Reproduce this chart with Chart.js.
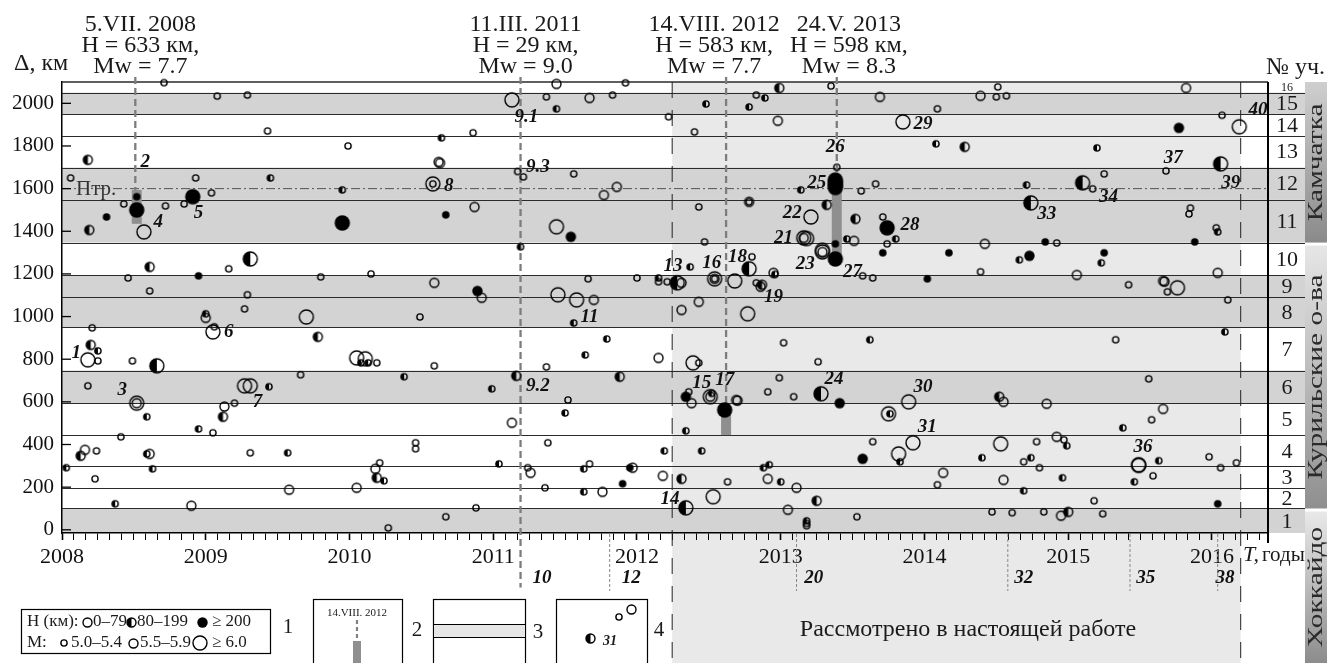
<!DOCTYPE html>
<html>
<head>
<meta charset="utf-8">
<script src="https://cdn.jsdelivr.net/npm/chart.js@4.4.1/dist/chart.umd.min.js"></script>
<style>
  html, body { margin: 0; padding: 0; background: #fff; }
  #wrap { width: 1327px; height: 663px; }
</style>
</head>
<body>
<div id="wrap"><canvas id="chart" width="1327" height="663"></canvas></div>
<script>
// Seismicity along the Kuril-Kamchatka arc, 2008-2016

const SERIF = "'Liberation Serif', 'Times New Roman', serif";

const xMin = 2008, xMax = 2016.39, yMin = -15, yMax = 2100;
const yTickValues = [0, 200, 400, 600, 800, 1000, 1200, 1400, 1600, 1800, 2000];

// zone (segment) borders along the arc, km
const zoneEdges = [-15, 100, 195, 297, 444, 594, 747, 950, 1091, 1195, 1347, 1547, 1699, 1848, 1949, 2050, 2100];
const grayZones = [1, 6, 8, 9, 11, 12, 15];
const trenchKm = 1600;
const studyStart = 2012.245, studyEnd = 2016.2;

const quakeYears = [2008.51, 2011.19, 2012.62, 2013.39];
const quakeDates = ['5.VII. 2008', '11.III. 2011', '14.VIII. 2012', '24.V. 2013'];
const quakeDepths = ['H = 633 км,', 'H = 29 км,', 'H = 583 км,', 'H = 598 км,'];
const quakeMw = ['Mw = 7.7', 'Mw = 9.0', 'Mw = 7.7', 'Mw = 8.3'];
const quakeLineEnd = [1594, -270, 562, 1625];
const quakeBars = [[2008.52, 1594, 1435], [2012.62, 560, 444], [2013.39, 1625, 1289]];
const markYears = [2011.81, 2013.11, 2014.58, 2015.43, 2016.04];

// events: [year, km]; H 0-79 open, 80-199 half, >=200 filled; M 5.0-5.4 small, 5.5-5.9 mid, >=6.0 large
const openSmall = [
  [2008.71,2097],[2009.08,2034],[2009.29,2039],[2009.43,1870],[2009.99,1800],[2008.06,1650],[2008.93,1650],[2010.58,1622],[2009.04,1580],
  [2008.43,1528],[2008.72,1519],[2008.85,1528],[2008.46,1181],[2009.16,1224],[2008.61,1120],[2009.29,1102],[2009.27,1036],[2009.06,952],
  [2009.80,1186],[2010.15,1200],[2010.49,998],[2008.21,947],[2008.25,792],[2008.49,792],[2010.19,783],[2010.59,769],
  [2008.18,675],[2009.20,594],[2009.66,727],[2009.05,455],[2008.41,436],[2008.24,370],[2008.23,239],[2009.31,361],[2010.21,314],
  [2010.46,408],[2010.46,380],[2010.27,9],[2010.67,61],
  [2011.92,2096],[2011.37,2030],[2011.83,2039],[2012.22,1937],[2010.86,1862],[2011.17,1680],[2011.21,1655],[2011.56,1669],[2012.83,2039],
  [2012.40,1866],[2013.35,2081],[2013.39,1700],[2013.56,1589],[2013.66,1622],
  [2012.43,1514],[2012.47,1350],[2012.78,1538],[2013.71,1467],[2013.74,1341],[2013.57,1191],[2013.64,1181],[2012.15,1163],[2012.21,1163],
  [2012.00,1181],[2011.66,1177],[2012.54,1177],[2012.80,1280],[2012.83,1158],[2012.43,783],[2013.02,877],[2013.26,788],[2011.37,764],
  [2011.52,609],[2011.38,408],[2011.24,291],[2011.36,197],[2011.67,309],[2010.88,103],[2012.63,225],[2012.36,647],[2012.91,647],
  [2012.99,713],[2013.09,624],[2013.64,413],[2013.53,61],[2013.18,30],[2013.18,19],
  [2015.56,708],[2015.58,516],[2014.09,211],[2014.78,413],[2014.69,319],[2014.80,291],[2014.97,422],[2014.47,84],[2014.61,80],
  [2014.83,84],[2015.18,136],[2015.24,75],[2015.59,253],[2015.98,342],[2016.06,291],[2016.17,314],
  [2014.92,1345],[2014.39,1210],[2015.42,1149],[2015.69,1116],[2016.11,1078],[2015.85,1509],[2015.84,1481],[2016.03,1416],[2015.33,891],
  [2014.51,2077],[2014.50,2030],[2014.57,2035],[2014.09,1974],[2016.07,1944],[2015.68,1683],[2015.25,1669],[2015.17,1599]
];
const openMid = [
  [2010.62,1725],[2010.63,1720],[2009.00,994],[2010.59,1158],[2008.52,594],[2009.13,578],[2008.16,375],[2008.61,356],[2008.90,113],
  [2009.58,188],[2010.05,197],[2010.18,286],
  [2011.44,2091],[2011.67,2025],[2011.86,1608],[2011.77,1570],[2012.98,1918],[2013.69,2030],[2010.87,1514],[2012.78,1538],[2013.29,1303],
  [2013.16,1369],[2013.51,1355],[2012.31,1158],[2010.92,1088],[2011.70,1078],[2012.54,1177],[2012.86,1140],[2012.95,1205],[2012.43,1069],
  [2012.31,1031],[2012.15,806],
  [2011.13,502],[2011.26,267],[2011.76,178],[2011.97,291],[2012.18,253],[2012.38,594],[2012.51,624],[2012.69,609],[2012.70,606],
  [2012.91,239],[2013.11,197],[2013.05,94],
  [2014.55,600],[2014.85,591],[2015.66,567],[2014.13,267],[2014.55,234],[2014.92,436],[2014.95,66],
  [2014.42,1341],[2015.06,1195],[2015.66,1167],[2015.67,1164],[2016.04,1205],[2014.39,2035],[2015.82,2072]
];
const openLarge = [
  [2010.58,1622],[2008.57,1397],[2009.05,928],[2009.70,998],[2008.18,797],[2010.05,806],[2010.11,802],[2008.52,594],[2009.27,675],[2009.31,675],
  [2011.13,2016],[2011.44,1421],[2013.21,1467],[2013.16,1369],[2013.18,1366],[2013.29,1303],[2013.29,1311],[2011.45,1102],[2011.58,1078],
  [2012.54,1177],[2012.68,1167],[2012.77,1013],[2012.39,783],
  [2012.53,155],[2012.51,624],[2013.89,600],[2013.75,544],[2013.92,408],[2013.82,356],[2014.53,403],[2015.49,305],[2015.49,302],
  [2015.76,1135],[2013.85,1913],[2016.19,1890]
];
const halfSmall = [
  [2010.64,1838],[2009.45,1650],[2009.95,1594],[2009.00,1013],[2008.25,839],[2010.08,783],[2010.13,783],[2008.59,530],[2009.44,671],
  [2010.38,718],[2008.95,473],[2008.03,291],[2008.59,356],[2008.63,286],[2009.57,361],[2008.37,122],[2010.24,230],
  [2011.44,1974],[2012.48,1997],[2012.78,1983],[2012.89,2025],[2013.14,1594],[2011.19,1327],[2013.46,1364],[2012.37,1233],[2012.15,1181],
  [2011.56,970],[2012.96,1198],[2011.79,895],[2011.64,820],[2013.62,891],
  [2010.99,661],[2011.50,548],[2011.04,309],[2011.63,178],[2011.63,286],[2012.19,370],[2012.45,370],[2012.34,464],[2012.52,640],
  [2012.88,291],[2012.92,305],[2013.00,225],[2013.18,42],
  [2015.38,478],[2013.76,544],[2013.83,319],[2014.40,338],[2014.74,338],[2014.99,394],[2014.96,244],[2014.69,183],[2015.63,324],[2015.46,225],
  [2013.80,1364],[2014.66,1266],[2015.23,1252],[2016.04,1397],[2016.09,928],[2014.08,1810],[2015.20,1791],[2014.71,1617]
];
const halfMid = [
  [2008.18,1735],[2008.19,1406],[2008.61,1233],[2009.78,905],[2008.20,867],[2009.12,530],[2008.13,347],[2010.19,244],[2012.99,2072],
  [2013.32,1524],[2013.52,1458],[2012.87,1149],[2011.16,722],[2011.88,718],[2012.31,239],[2013.25,136],[2014.52,624],[2015.00,84],[2014.28,1796]
];
const halfLarge = [
  [2009.31,1270],[2008.66,769],[2012.28,1158],[2012.78,1224],[2012.34,103],[2013.28,638],[2014.74,1533],[2016.06,1716],[2015.10,1627]
];
const deepSmall = [
  [2008.52,1562],[2008.31,1467],[2010.67,1477],[2008.95,1191],[2013.38,1341],[2013.71,1299],[2011.95,291],[2011.90,216],[2016.04,122],
  [2014.84,1350],[2014.17,1299],[2015.25,1299],[2014.02,1177],[2015.88,1350]
];
const deepMid = [
  [2011.54,1374],[2010.89,1120],[2012.34,624],[2013.41,594],[2013.57,333],[2014.73,1285],[2015.77,1885]
];
const deepLarge = [
  [2008.91,1562],[2008.52,1500],[2009.95,1439],[2013.38,1640],[2013.38,1628],[2013.38,1616],[2013.38,1605],[2013.38,1270],[2013.74,1416],[2012.61,562]
];

// event numbers: [year, km, text]
const eventLabels = [
  [2008.10,830,'1'],[2008.58,1725,'2'],[2008.42,656,'3'],[2008.67,1444,'4'],[2008.95,1486,'5'],[2009.16,928,'6'],[2009.36,600,'7'],
  [2010.69,1613,'8'],[2011.23,1936,'9.1'],[2011.31,675,'9.2'],[2011.31,1702,'9.3'],[2011.34,-225,'10'],[2011.67,999,'11'],
  [2011.96,-225,'12'],[2012.25,1238,'13'],[2012.23,145,'14'],[2012.45,689,'15'],[2012.52,1252,'16'],[2012.61,703,'17'],
  [2012.70,1280,'18'],[2012.95,1092,'19'],[2013.23,-225,'20'],[2013.02,1369,'21'],[2013.08,1486,'22'],[2013.17,1247,'23'],
  [2013.37,708,'24'],[2013.25,1627,'25'],[2013.38,1796,'26'],[2013.50,1210,'27'],[2013.90,1430,'28'],[2013.99,1903,'29'],
  [2013.99,670,'30'],[2014.02,483,'31'],[2014.69,-225,'32'],[2014.85,1481,'33'],[2015.28,1561,'34'],[2015.54,-225,'35'],
  [2015.52,389,'36'],[2015.73,1744,'37'],[2016.09,-225,'38'],[2016.13,1627,'39'],[2016.32,1969,'40']
];

function makeSymbol(r, kind) {
  const lw = 1.4;
  const size = Math.ceil(2 * r + lw + 2);
  const c = document.createElement('canvas');
  c.width = c.height = size;
  const g = c.getContext('2d');
  const m = size / 2;
  g.lineWidth = lw;
  g.strokeStyle = '#000';
  g.fillStyle = '#000';
  if (kind === 'deep') {
    g.beginPath(); g.arc(m, m, r + lw / 2, 0, 2 * Math.PI); g.fill();
    return c;
  }
  if (kind === 'half') {
    g.beginPath(); g.moveTo(m, m); g.arc(m, m, r, Math.PI / 2, 3 * Math.PI / 2); g.closePath(); g.fill();
  }
  g.beginPath(); g.arc(m, m, r, 0, 2 * Math.PI); g.stroke();
  return c;
}

const R_SMALL = 3.1, R_MID = 4.5, R_LARGE = 7;
const groups = [
  { data: openSmall, r: R_SMALL, kind: 'open' },
  { data: openMid, r: R_MID, kind: 'open' },
  { data: openLarge, r: R_LARGE, kind: 'open' },
  { data: halfSmall, r: R_SMALL, kind: 'half' },
  { data: halfMid, r: R_MID, kind: 'half' },
  { data: halfLarge, r: R_LARGE, kind: 'half' },
  { data: deepSmall, r: R_SMALL, kind: 'deep' },
  { data: deepMid, r: R_MID, kind: 'deep' },
  { data: deepLarge, r: R_LARGE, kind: 'deep' }
];
groups.forEach(g => { g.symbol = makeSymbol(g.r, g.kind); });
const sym = (kind, r) => groups.find(g => g.kind === kind && g.r === r).symbol;

function dashedV(ctx, x, y0, y1, color, width, dash) {
  ctx.save();
  ctx.strokeStyle = color; ctx.lineWidth = width; ctx.setLineDash(dash);
  ctx.beginPath(); ctx.moveTo(x, y0); ctx.lineTo(x, y1); ctx.stroke();
  ctx.restore();
}

function text(ctx, str, x, y, font, align, color) {
  ctx.font = font;
  ctx.textAlign = align || 'center';
  ctx.textBaseline = 'middle';
  ctx.fillStyle = color || '#1a1a1a';
  ctx.fillText(str, x, y);
}

const figurePlugin = {
  id: 'figure',
  beforeDraw(chart) {
    const { ctx, chartArea: a, scales: { x, y } } = chart;
    const colRight = a.right + 37;
    ctx.save();
    ctx.fillStyle = '#fff';
    ctx.fillRect(0, 0, chart.width, chart.height);
    const sx0 = x.getPixelForValue(studyStart), sx1 = x.getPixelForValue(studyEnd);
    ctx.fillStyle = '#e9e9e9';
    ctx.fillRect(sx0, a.top, sx1 - sx0, chart.height - a.top);
    ctx.fillStyle = '#d3d3d4';
    grayZones.forEach(z => {
      const t = y.getPixelForValue(zoneEdges[z]);
      const b = y.getPixelForValue(zoneEdges[z - 1]);
      ctx.fillRect(a.left, t, colRight - a.left, b - t);
    });
    ctx.restore();
  },
  beforeDatasetsDraw(chart) {
    const { ctx, chartArea: a, scales: { x, y } } = chart;
    const colRight = a.right + 37;
    ctx.save();
    // zone borders
    ctx.strokeStyle = '#2a2a2a';
    ctx.lineWidth = 1.1;
    for (let i = 1; i < zoneEdges.length - 1; i++) {
      const py = Math.round(y.getPixelForValue(zoneEdges[i])) + 0.5;
      ctx.beginPath(); ctx.moveTo(a.left, py); ctx.lineTo(colRight, py); ctx.stroke();
    }
    ctx.lineWidth = 1.4;
    ctx.beginPath(); ctx.moveTo(a.left, a.top); ctx.lineTo(a.right, a.top); ctx.stroke();
    // trench axis
    const ty = y.getPixelForValue(trenchKm);
    ctx.strokeStyle = '#555'; ctx.lineWidth = 1; ctx.setLineDash([9, 3, 2, 3]);
    ctx.beginPath(); ctx.moveTo(a.left, ty); ctx.lineTo(a.right, ty); ctx.stroke();
    ctx.setLineDash([]);
    // inner y ticks
    ctx.strokeStyle = '#000'; ctx.lineWidth = 1.3;
    yTickValues.forEach(v => {
      const py = y.getPixelForValue(v);
      ctx.beginPath(); ctx.moveTo(a.left, py); ctx.lineTo(a.left + 9, py); ctx.stroke();
    });
    ctx.restore();
    // study period edges
    [studyStart, studyEnd].forEach(v => dashedV(ctx, x.getPixelForValue(v), a.top, chart.height, '#222', 1, [16, 12]));
    // marks below the axis
    markYears.forEach(v => dashedV(ctx, x.getPixelForValue(v), a.bottom + 1, a.bottom + 58, '#888', 1, [3, 2]));
    // strong earthquakes
    quakeYears.forEach((v, i) => dashedV(ctx, x.getPixelForValue(v), 77, y.getPixelForValue(quakeLineEnd[i]), '#7d7d7d', 2.3, [7, 4]));
    ctx.save();
    ctx.fillStyle = '#8f8f8f';
    quakeBars.forEach(b => {
      const px = x.getPixelForValue(b[0]);
      const t = y.getPixelForValue(b[1]), bt = y.getPixelForValue(b[2]);
      ctx.fillRect(px - 5, t, 10, bt - t);
    });
    // segment column border
    ctx.strokeStyle = '#000'; ctx.lineWidth = 2;
    ctx.beginPath(); ctx.moveTo(a.right, a.top); ctx.lineTo(a.right, a.bottom + 10); ctx.stroke();
    ctx.restore();
  },
  afterDatasetsDraw(chart) {
    const { ctx, scales: { x, y } } = chart;
    ctx.save();
    eventLabels.forEach(l => {
      text(ctx, l[2], x.getPixelForValue(l[0]), y.getPixelForValue(l[1]), `italic bold 19px ${SERIF}`, 'center', '#111');
    });
    ctx.restore();
  },
  afterDraw(chart) {
    const { ctx, chartArea: a, scales: { x, y } } = chart;
    const colRight = a.right + 37;
    const F = `21px ${SERIF}`;
    const H = `24px ${SERIF}`;
    ctx.save();
    // headers of strong earthquakes
    const shift = [5, 5, -12, 12];
    quakeYears.forEach((v, i) => {
      const cx = x.getPixelForValue(v) + shift[i];
      text(ctx, quakeDates[i], cx, 25, H);
      text(ctx, quakeDepths[i], cx, 46, H);
      text(ctx, quakeMw[i], cx, 67, H);
    });
    text(ctx, 'Δ, км', 14, 64, H, 'left');
    text(ctx, '№ уч.', 1325, 68, H, 'right');
    text(ctx, 'Птр.', 76, y.getPixelForValue(trenchKm) + 1, F, 'left', '#333');
    // segment numbers
    for (let i = 1; i < zoneEdges.length; i++) {
      const cy = (y.getPixelForValue(zoneEdges[i - 1]) + y.getPixelForValue(zoneEdges[i])) / 2;
      text(ctx, String(i), a.right + 19, cy + 1, i === 16 ? `12px ${SERIF}` : `22px ${SERIF}`);
    }
    // region strip
    const regions = [
      ['Камчатка', a.top, y.getPixelForValue(1347), '#cfcfcf', '#8a8a8a'],
      ['Курильские о-ва', y.getPixelForValue(1347) + 3, y.getPixelForValue(100), '#e6e6e6', '#8f8f8f'],
      ['Хоккайдо', y.getPixelForValue(100) + 3, chart.height, '#e9e9e9', '#8c8c8c']
    ];
    regions.forEach(r => {
      const grd = ctx.createLinearGradient(0, r[1], 0, r[2]);
      grd.addColorStop(0, r[3]); grd.addColorStop(1, r[4]);
      ctx.fillStyle = grd;
      ctx.fillRect(colRight, r[1], chart.width - colRight, r[2] - r[1]);
      ctx.save();
      ctx.beginPath(); ctx.rect(colRight, r[1], chart.width - colRight, r[2] - r[1]); ctx.clip();
      ctx.translate(colRight + 10, (r[1] + r[2]) / 2);
      ctx.rotate(-Math.PI / 2);
      ctx.scale(1.4, 1);
      text(ctx, r[0], 0, 1, `21px ${SERIF}`, 'center', '#2a2a2a');
      ctx.restore();
    });
    // axis title
    text(ctx, 'T,', 1243, 555, `italic 22px ${SERIF}`, 'left');
    text(ctx, 'годы', 1262, 555, `21px ${SERIF}`, 'left');
    text(ctx, 'Рассмотрено в настоящей работе', 968, 630, H);
    // legend 1
    const L = `17px ${SERIF}`;
    ctx.strokeStyle = '#000'; ctx.lineWidth = 1.2;
    ctx.strokeRect(21.5, 609.5, 249, 44);
    const put = (c, cx, cy) => ctx.drawImage(c, Math.round(cx - c.width / 2), Math.round(cy - c.height / 2));
    text(ctx, 'H (км):', 27, 622, L, 'left');
    put(sym('open', R_MID), 87, 622); text(ctx, '0–79', 93, 622, L, 'left');
    put(sym('half', R_MID), 131, 622); text(ctx, '80–199', 137, 622, L, 'left');
    put(sym('deep', R_MID), 202, 622); text(ctx, '≥ 200', 212, 622, L, 'left');
    text(ctx, 'M:', 27, 643, L, 'left');
    put(sym('open', R_SMALL), 64, 643); text(ctx, '5.0–5.4', 71, 643, L, 'left');
    put(sym('open', R_MID), 133, 643); text(ctx, '5.5–5.9', 140, 643, L, 'left');
    put(sym('open', R_LARGE), 200, 643); text(ctx, '≥ 6.0', 212, 643, L, 'left');
    text(ctx, '1', 288, 627, F);
    // legend 2
    ctx.strokeRect(313.5, 599.5, 89, 80);
    text(ctx, '14.VIII. 2012', 357, 613, `11px ${SERIF}`);
    dashedV(ctx, 357, 620, 641, '#808080', 2.2, [4, 3]);
    ctx.fillStyle = '#8f8f8f'; ctx.fillRect(353, 641, 8, 25);
    text(ctx, '2', 417, 630, F);
    // legend 3
    ctx.strokeStyle = '#000';
    ctx.strokeRect(433.5, 599.5, 92, 80);
    ctx.fillStyle = '#e6e6e6'; ctx.fillRect(434, 624, 91, 13);
    ctx.beginPath(); ctx.moveTo(434, 624.5); ctx.lineTo(525, 624.5); ctx.moveTo(434, 637.5); ctx.lineTo(525, 637.5); ctx.stroke();
    text(ctx, '3', 538, 632, F);
    // legend 4
    ctx.strokeRect(556.5, 599.5, 91, 80);
    put(sym('half', R_MID), 590, 638);
    text(ctx, '31', 610, 641, `italic bold 14px ${SERIF}`);
    put(sym('open', R_SMALL), 619, 617);
    put(sym('open', R_MID), 631, 609);
    text(ctx, '4', 659, 630, F);
    ctx.restore();
  }
};

const yearTicks = [];
for (let m = 0; m <= 100; m++) yearTicks.push(2008 + m / 12);

new Chart(document.getElementById('chart'), {
  type: 'scatter',
  data: {
    datasets: groups.map(g => ({
      data: g.data.map(p => ({ x: p[0], y: p[1] })),
      pointStyle: g.symbol,
      pointRadius: g.r,
      pointHoverRadius: g.r,
      clip: false
    }))
  },
  options: {
    responsive: false,
    animation: false,
    layout: { padding: { top: 82, right: 59, left: 0, bottom: 0 } },
    plugins: { legend: { display: false }, tooltip: { enabled: false } },
    scales: {
      x: {
        type: 'linear', min: xMin, max: xMax,
        afterBuildTicks: s => { s.ticks = yearTicks.map(v => ({ value: v })); },
        afterFit: s => { s.height = 130; },
        border: { display: true, color: '#000', width: 1.5 },
        grid: {
          drawOnChartArea: false, drawTicks: true, tickLength: 7, tickColor: '#000',
          tickWidth: c => (Math.abs(c.tick.value - Math.round(c.tick.value)) < 1e-6 ? 1.6 : 1)
        },
        ticks: {
          autoSkip: false, maxRotation: 0, minRotation: 0, padding: 4, color: '#111',
          font: { family: SERIF, size: 22 },
          callback: v => (Math.abs(v - Math.round(v)) < 1e-6 ? String(Math.round(v)) : '')
        }
      },
      y: {
        type: 'linear', min: yMin, max: yMax,
        afterBuildTicks: s => { s.ticks = yTickValues.map(v => ({ value: v })); },
        afterFit: s => { s.width = 62; },
        border: { display: true, color: '#000', width: 1.5 },
        grid: { drawOnChartArea: false, drawTicks: false },
        ticks: {
          padding: 8, color: '#111', font: { family: SERIF, size: 21 },
          callback: v => String(v)
        }
      }
    }
  },
  plugins: [figurePlugin]
});
</script>
</body>
</html>
